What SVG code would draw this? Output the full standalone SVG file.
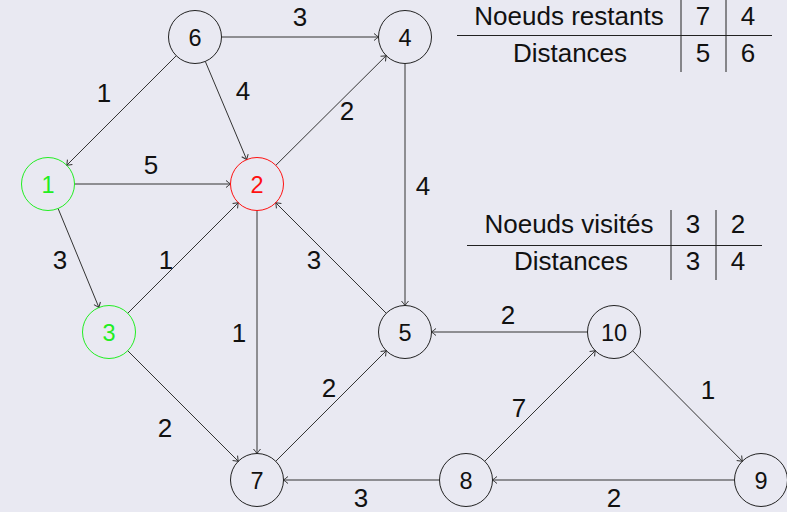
<svg xmlns="http://www.w3.org/2000/svg" width="787" height="512" viewBox="0 0 787 512">
<defs>
<marker id="arr" markerUnits="userSpaceOnUse" markerWidth="12" markerHeight="12" viewBox="-6 -6 12 12" refX="0" refY="0" orient="auto">
<path d="M -4.5,-3.5 Q -1.3,-0.9 0,0 Q -1.3,0.9 -4.5,3.5" fill="none" stroke="#333" stroke-width="1"/>
</marker>
</defs>
<style>
.bg{fill:#e9e9f2}
.node circle{fill:none;stroke:#222;stroke-width:1}
.node text{font-family:"Liberation Sans",Arial,sans-serif;font-size:23.5px;text-anchor:middle;fill:#111}
.green circle{stroke:#22ee22}
.green text{fill:#22ee22}
.red circle{stroke:#ff1111}
.red text{fill:#ff1111}
.edges line{stroke:#333;stroke-width:1;marker-end:url(#arr)}
.lbl{font-family:"Liberation Sans",Arial,sans-serif;font-size:26px;text-anchor:middle;fill:#111}
.tbl line{stroke:#222;stroke-width:1}
</style>
<rect class="bg" x="0" y="0" width="787" height="512"/>
<g id="connectors" class="edges">
<line x1="221.5" y1="37" x2="378.5" y2="37"/>
<line x1="176.26" y1="55.74" x2="66.74" y2="165.26"/>
<line x1="205.3" y1="61.42" x2="246.7" y2="159.58"/>
<line x1="275.8" y1="165.33" x2="386.2" y2="55.67"/>
<line x1="74.5" y1="184" x2="230.5" y2="184"/>
<line x1="405" y1="63.5" x2="405" y2="305.5"/>
<line x1="58.1" y1="208.5" x2="98.9" y2="307.5"/>
<line x1="127.74" y1="313.26" x2="238.26" y2="202.74"/>
<line x1="386.26" y1="313.26" x2="275.74" y2="202.74"/>
<line x1="257" y1="210.5" x2="257" y2="453.5"/>
<line x1="127.74" y1="350.74" x2="238.26" y2="461.26"/>
<line x1="275.74" y1="461.26" x2="386.26" y2="350.74"/>
<line x1="587.5" y1="332" x2="431.5" y2="332"/>
<line x1="632.67" y1="350.8" x2="742.33" y2="461.2"/>
<line x1="484.74" y1="461.26" x2="595.26" y2="350.74"/>
<line x1="734.5" y1="480" x2="492.5" y2="480"/>
<line x1="439.5" y1="480" x2="283.5" y2="480"/>
</g>
<g id="edge-labels">
<text class="lbl" x="300" y="26">3</text>
<text class="lbl" x="104" y="102">1</text>
<text class="lbl" x="243" y="100">4</text>
<text class="lbl" x="347" y="120">2</text>
<text class="lbl" x="151" y="174">5</text>
<text class="lbl" x="423" y="195">4</text>
<text class="lbl" x="60" y="269">3</text>
<text class="lbl" x="166" y="269">1</text>
<text class="lbl" x="314" y="269">3</text>
<text class="lbl" x="239" y="342">1</text>
<text class="lbl" x="165" y="437">2</text>
<text class="lbl" x="329" y="397">2</text>
<text class="lbl" x="508" y="324">2</text>
<text class="lbl" x="708" y="399">1</text>
<text class="lbl" x="519" y="417">7</text>
<text class="lbl" x="614" y="507">2</text>
<text class="lbl" x="361" y="507">3</text>
</g>
<g id="n6" class="node"><circle cx="195" cy="37" r="26.5"/><text x="195" y="45.5">6</text></g>
<g id="n4" class="node"><circle cx="405" cy="37" r="26.5"/><text x="405" y="45.5">4</text></g>
<g id="n1" class="node green"><circle cx="48" cy="184" r="26.5"/><text x="48" y="192.5">1</text></g>
<g id="n2" class="node red"><circle cx="257" cy="184" r="26.5"/><text x="257" y="192.5">2</text></g>
<g id="n3" class="node green"><circle cx="109" cy="332" r="26.5"/><text x="109" y="340.5">3</text></g>
<g id="n5" class="node"><circle cx="405" cy="332" r="26.5"/><text x="405" y="340.5">5</text></g>
<g id="n10" class="node"><circle cx="614" cy="332" r="26.5"/><text x="614" y="340.5">10</text></g>
<g id="n7" class="node"><circle cx="257" cy="480" r="26.5"/><text x="257" y="488.5">7</text></g>
<g id="n8" class="node"><circle cx="466" cy="480" r="26.5"/><text x="466" y="488.5">8</text></g>
<g id="n9" class="node"><circle cx="761" cy="480" r="26.5"/><text x="761" y="488.5">9</text></g>
<g id="table-restants" class="tbl">
<line x1="457" y1="35.5" x2="772" y2="35.5"/>
<line x1="681" y1="0" x2="681" y2="72"/>
<line x1="726" y1="0" x2="726" y2="72"/>
<text class="lbl" x="569" y="25">Noeuds restants</text>
<text class="lbl" x="703" y="25">7</text>
<text class="lbl" x="748" y="25">4</text>
<text class="lbl" x="570" y="62">Distances</text>
<text class="lbl" x="703" y="62">5</text>
<text class="lbl" x="748" y="62">6</text>
</g>
<g id="table-visites" class="tbl">
<line x1="467" y1="245.5" x2="762" y2="245.5"/>
<line x1="671" y1="210" x2="671" y2="280"/>
<line x1="716" y1="210" x2="716" y2="280"/>
<text class="lbl" x="569" y="233">Noeuds visités</text>
<text class="lbl" x="693" y="233">3</text>
<text class="lbl" x="738" y="233">2</text>
<text class="lbl" x="571" y="270">Distances</text>
<text class="lbl" x="693" y="270">3</text>
<text class="lbl" x="738" y="270">4</text>
</g>
</svg>
